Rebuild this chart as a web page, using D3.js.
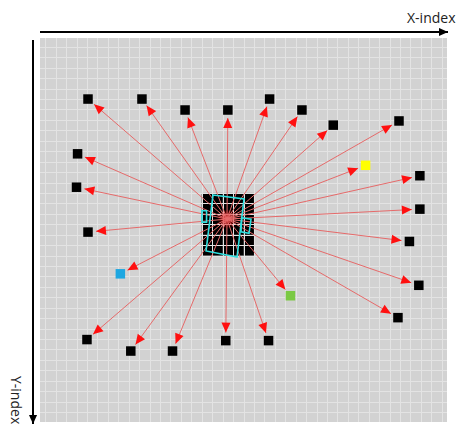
<!DOCTYPE html>
<html>
<head>
<meta charset="utf-8">
<script src="https://cdn.jsdelivr.net/npm/d3@7"></script>
<style>
  body { margin: 0; background: #fff; }
  svg { display: block; }
</style>
</head>
<body>
<div id="chart"></div>
<script>
// grid index coordinates (cell units)
var origin = { x: 17.42, y: 17.5 };

var targetX = [4.1, 9.27, 13.4, 17.5, 21.5, 24.6, 27.6, 33.9, 3.1, 30.7, 35.9, 3.0, 35.9, 4.1, 34.9, 7.2, 23.5, 35.8, 33.8, 4.0, 8.2, 12.2, 17.3, 21.4];
var targetY = [6.0, 6.0, 7.05, 7.05, 6.0, 7.05, 8.5, 8.1, 11.25, 12.35, 13.35, 14.45, 16.55, 18.75, 19.65, 22.75, 24.85, 23.85, 26.95, 29.05, 30.15, 30.15, 29.15, 29.15];
var targetColor = ["#000", "#000", "#000", "#000", "#000", "#000", "#000", "#000", "#000", "#ffff00", "#000", "#000", "#000", "#000", "#000", "#1ea7e1", "#7ac943", "#000", "#000", "#000", "#000", "#000", "#000", "#000"];

// central block of black cells
var blockCols = [15, 16, 17, 18, 19];
var blockRows = [15, 16, 17, 18, 19, 20];

// cyan outlines (rotated boxes)
var boxMain = [[16.08, 15.19], [19.05, 15.58], [18.38, 21.14], [15.41, 20.56]];
var boxLeft = [[15.02, 16.7], [15.46, 16.7], [15.46, 17.8], [15.02, 17.8]];
var boxRight = [[18.83, 17.37], [19.72, 17.52], [19.53, 18.87], [18.76, 18.72]];

var width = 456, height = 430;
var svg = d3.select("#chart").append("svg").attr("width", width).attr("height", height);

var x = d3.scaleLinear().domain([-0.5, 38.5]).range([40, 447]);
var y = d3.scaleLinear().domain([0.15, 36.95]).range([38, 422]);
var cell = x(1) - x(0);

var defs = svg.append("defs");
defs.append("marker")
  .attr("id", "head")
  .attr("markerUnits", "userSpaceOnUse")
  .attr("viewBox", "0 -5 10 10")
  .attr("refX", 10).attr("refY", 0)
  .attr("markerWidth", 11).attr("markerHeight", 10)
  .attr("orient", "auto")
  .append("path").attr("d", "M0,-4.5L10,0L0,4.5Z").attr("fill", "#ff1010");

var glow = defs.append("radialGradient").attr("id", "glow");
glow.append("stop").attr("offset", "0%").attr("stop-color", "#ff0000").attr("stop-opacity", 0.9);
glow.append("stop").attr("offset", "100%").attr("stop-color", "#ff0000").attr("stop-opacity", 0);

// panel
svg.append("rect")
  .attr("x", 40).attr("y", 38).attr("width", 407).attr("height", 384)
  .attr("fill", "#d2d2d2");

// black block
var cells = [];
blockCols.forEach(function (c) { blockRows.forEach(function (r) { cells.push({ c: c, r: r }); }); });
svg.append("g").selectAll("rect").data(cells).enter().append("rect")
  .attr("x", function (d) { return x(d.c); })
  .attr("y", function (d) { return y(d.r); })
  .attr("width", cell).attr("height", cell)
  .attr("fill", "#000");

// grid lines
var gx = d3.range(0, 39), gy = d3.range(1, 37);
var grid = svg.append("g").attr("stroke", "#e3e3e3").attr("stroke-width", 1);
grid.selectAll(".v").data(gx).enter().append("line")
  .attr("x1", function (d) { return Math.round(x(d)) + 0.5; })
  .attr("x2", function (d) { return Math.round(x(d)) + 0.5; })
  .attr("y1", 38).attr("y2", 422);
grid.selectAll(".h").data(gy).enter().append("line")
  .attr("y1", function (d) { return Math.round(y(d)) + 0.5; })
  .attr("y2", function (d) { return Math.round(y(d)) + 0.5; })
  .attr("x1", 40).attr("x2", 447);

// red glow at centre
svg.append("circle")
  .attr("cx", x(origin.x)).attr("cy", y(origin.y)).attr("r", 10)
  .attr("fill", "url(#glow)");

// arrows
var targets = targetX.map(function (v, i) { return { x: v, y: targetY[i], color: targetColor[i] }; });
svg.append("g").selectAll("line").data(targets).enter().append("line")
  .attr("x1", x(origin.x)).attr("y1", y(origin.y))
  .attr("x2", function (d) {
    var dx = x(d.x) - x(origin.x), dy = y(d.y) - y(origin.y), l = Math.sqrt(dx * dx + dy * dy);
    return x(d.x) - dx / l * 8;
  })
  .attr("y2", function (d) {
    var dx = x(d.x) - x(origin.x), dy = y(d.y) - y(origin.y), l = Math.sqrt(dx * dx + dy * dy);
    return y(d.y) - dy / l * 8;
  })
  .attr("stroke", "#e66a6a").attr("stroke-width", 1)
  .attr("marker-end", "url(#head)");

// cyan outlines
var line = d3.line().x(function (d) { return x(d[0]); }).y(function (d) { return y(d[1]); }).curve(d3.curveLinearClosed);
svg.append("g").selectAll("path").data([boxMain, boxLeft, boxRight]).enter().append("path")
  .attr("d", line)
  .attr("fill", "none").attr("stroke", "#2fe0e0").attr("stroke-width", 1.6);

// target squares
var sz = 9.5;
svg.append("g").selectAll("rect").data(targets).enter().append("rect")
  .attr("x", function (d) { return x(d.x) - sz / 2; })
  .attr("y", function (d) { return y(d.y) - sz / 2; })
  .attr("width", sz).attr("height", sz)
  .attr("fill", function (d) { return d.color; });

// axes
defs.append("marker")
  .attr("id", "axhead")
  .attr("markerUnits", "userSpaceOnUse")
  .attr("viewBox", "0 -5 10 10")
  .attr("refX", 10).attr("refY", 0)
  .attr("markerWidth", 9).attr("markerHeight", 9)
  .attr("orient", "auto")
  .append("path").attr("d", "M0,-4.5L10,0L0,4.5Z").attr("fill", "#000");

svg.append("line")
  .attr("x1", 40).attr("y1", 32).attr("x2", 448).attr("y2", 32)
  .attr("stroke", "#000").attr("stroke-width", 2)
  .attr("marker-end", "url(#axhead)");
svg.append("line")
  .attr("x1", 33).attr("y1", 40).attr("x2", 33).attr("y2", 424)
  .attr("stroke", "#000").attr("stroke-width", 2)
  .attr("marker-end", "url(#axhead)");

svg.append("text")
  .attr("x", 407).attr("y", 23)
  .attr("font-family", "'Open Sans', sans-serif").attr("font-size", 14)
  .attr("fill", "#222")
  .text("X-index");
svg.append("text")
  .attr("transform", "translate(11,376) rotate(90)")
  .attr("font-family", "'Open Sans', sans-serif").attr("font-size", 14)
  .attr("fill", "#222")
  .text("Y-index");
</script>
</body>
</html>
